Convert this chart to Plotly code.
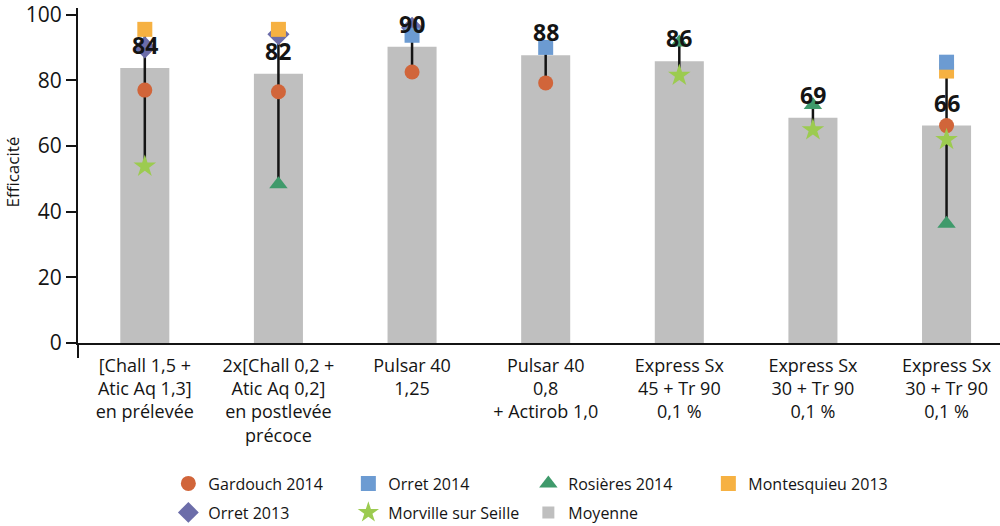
import plotly.graph_objects as go

categories = [
    "[Chall 1,5 +<br>Atic Aq 1,3]<br>en prélevée",
    "2x[Chall 0,2 +<br>Atic Aq 0,2]<br>en postlevée<br>précoce",
    "Pulsar 40<br>1,25",
    "Pulsar 40<br>0,8<br>+ Actirob 1,0",
    "Express Sx<br>45 + Tr 90<br>0,1 %",
    "Express Sx<br>30 + Tr 90<br>0,1 %",
    "Express Sx<br>30 + Tr 90<br>0,1 %",
]
cat_ids = list(range(len(categories)))
y_ticks = [0, 20, 40, 60, 80, 100]

moyenne = [83.7, 82.0, 90.2, 87.6, 85.8, 68.6, 66.2]
gardouch_2014 = [77.0, 76.5, 82.5, 79.2, None, None, 66.2]
orret_2014 = [None, None, 93.7, 90.0, None, None, 85.5]
rosieres_2014 = [None, 48.3, None, None, 91.5, 72.5, 36.3]
montesquieu_2013 = [95.5, 95.5, None, None, None, None, 82.8]
orret_2013 = [90.0, 94.0, 96.0, None, None, None, None]
morville = [53.8, None, None, None, 81.5, 64.9, 61.9]

FONT = "Open Sans"
INK = "#141414"

fig = go.Figure()

fig.add_trace(go.Bar(
    x=cat_ids, y=moyenne, name="Moyenne", width=0.367,
    marker=dict(color="#BFBFBF", line=dict(width=0)),
    legend="legend2", legendrank=3,
))

# vertical range lines (min to max of sites)
series_all = [gardouch_2014, orret_2014, rosieres_2014, montesquieu_2013, orret_2013, morville]
lx, ly = [], []
for i in cat_ids:
    vals = [s[i] for s in series_all if s[i] is not None]
    if len(vals) >= 2:
        lx += [i, i, None]
        ly += [min(vals), max(vals), None]
fig.add_trace(go.Scatter(x=lx, y=ly, mode="lines", line=dict(color=INK, width=2.5),
                         showlegend=False, hoverinfo="skip"))

def add_pts(vals, name, symbol, color, size, legend, rank):
    fig.add_trace(go.Scatter(
        x=cat_ids, y=vals, name=name, mode="markers",
        marker=dict(symbol=symbol, color=color, size=size, line=dict(width=0)),
        legend=legend, legendrank=rank,
    ))

add_pts(gardouch_2014, "Gardouch 2014", "circle", "#D1653A", 15, "legend", 1)
add_pts(rosieres_2014, "Rosières 2014", "triangle-up", "#3F9A6B", 16, "legend", 3)
add_pts(morville, "Morville sur Seille", "star", "#9CCB50", 17, "legend2", 2)
add_pts(orret_2013, "Orret 2013", "diamond", "#6C6DA9", 17, "legend2", 1)
add_pts(montesquieu_2013, "Montesquieu 2013", "square", "#F6B142", 15, "legend", 4)
add_pts(orret_2014, "Orret 2014", "square", "#6C9BD2", 15, "legend", 2)

for i, m in zip(cat_ids, moyenne):
    fig.add_annotation(x=i, y=m, text=f"<b>{round(m)}</b>", showarrow=False,
                       yanchor="middle", yshift=23,
                       font=dict(family=FONT, size=23, color=INK, weight=800))

# y-axis title as rotated annotation
fig.add_annotation(x=0, xref="paper", xanchor="center", xshift=-66,
                   y=0.509, yref="paper", yanchor="middle",
                   text="Efficacité", textangle=-90, showarrow=False,
                   font=dict(family=FONT, size=17, color=INK))

# y-axis line extension below zero
fig.add_shape(type="line", xref="paper", yref="paper", x0=0, x1=0, y0=0, y1=-0.045,
              line=dict(color=INK, width=2))

legend_font = dict(family=FONT, size=16, color=INK)

fig.update_layout(
    width=1000, height=526,
    margin=dict(l=78, r=0, t=8, b=183),
    plot_bgcolor="white", paper_bgcolor="white",
    font=dict(family=FONT, color=INK),
    barmode="overlay",
    xaxis=dict(
        tickmode="array", tickvals=cat_ids, ticktext=categories,
        range=[-0.5, 6.4], showgrid=False, zeroline=False, automargin=False,
        showline=True, linecolor=INK, linewidth=2,
        ticks="", ticklabelstandoff=5,
        tickfont=dict(family=FONT, size=18, color=INK),
    ),
    yaxis=dict(
        range=[0, 102], tickmode="array", tickvals=y_ticks, showgrid=False,
        zeroline=False, automargin=False, ticklabeloverflow="allow",
        showline=True, linecolor=INK, linewidth=2,
        ticks="outside", ticklen=10, tickwidth=1.5, tickcolor=INK,
        tickfont=dict(family=FONT, size=21, color=INK),
    ),
    legend=dict(orientation="h", x=0.098, xanchor="left", xref="paper",
                y=0.1131, yanchor="top", yref="container",
                entrywidth=135, font=legend_font, bgcolor="rgba(0,0,0,0)"),
    legend2=dict(orientation="h", x=0.098, xanchor="left", xref="paper",
                 y=0.058, yanchor="top", yref="container",
                 entrywidth=135, font=legend_font, bgcolor="rgba(0,0,0,0)"),
)

fig.write_html("out.html", config={"displayModeBar": False},
               post_script="document.body.style.margin='0';document.body.style.padding='0';")
